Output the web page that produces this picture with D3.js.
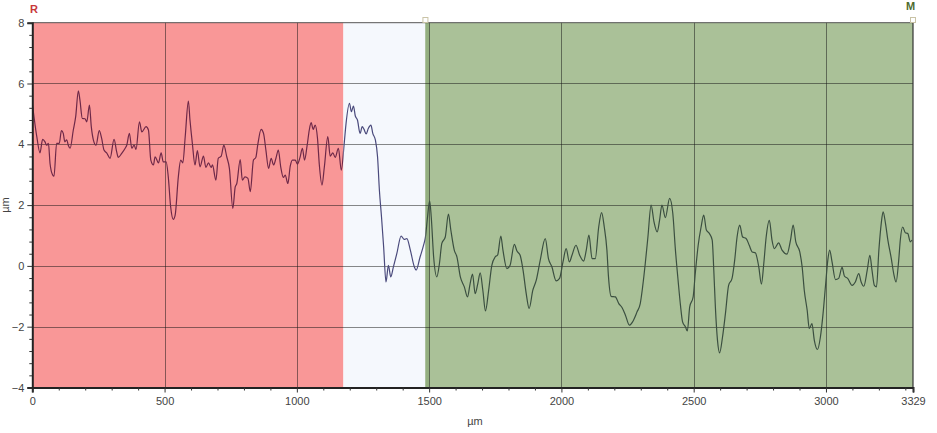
<!DOCTYPE html>
<html>
<head>
<meta charset="utf-8">
<script src="https://cdn.jsdelivr.net/npm/d3@7"></script>
<style>
  body { margin: 0; background: #fff; }
  svg { display: block; font-family: 'Liberation Sans', Arial, sans-serif; }
</style>
</head>
<body>
<svg width="937" height="433"></svg>
<script>
'use strict'

// profile, x in µm and height in µm
const positions = [
  0, 17, 29, 39, 48, 54, 61, 67, 77, 82, 92, 102, 110, 117, 123, 130, 136, 143, 155, 164,
  174, 180, 189, 199, 206, 216, 223, 231, 241, 253, 262, 271, 281, 294, 309, 319, 325, 338, 351, 357,
  367, 376, 385, 392, 405, 414, 430, 439, 448, 458, 464, 477, 487, 495, 506, 514, 523, 533, 540, 552,
  561, 569, 578, 590, 596, 605, 615, 624, 634, 647, 656, 666, 676, 681, 694, 703, 714, 724, 735, 745,
  758, 767, 773, 786, 794, 804, 815, 824, 836, 845, 852, 865, 874, 883, 893, 903, 912, 921, 930, 939,
  949, 956, 966, 975, 983, 994, 1002, 1012, 1021, 1029, 1039, 1047, 1054, 1062, 1069, 1078, 1085, 1095, 1104, 1117,
  1126, 1136, 1145, 1157, 1168, 1179, 1186, 1199, 1206, 1214, 1221, 1229, 1239, 1247, 1254, 1262, 1270, 1280, 1287, 1297,
  1305, 1312, 1320, 1328, 1337, 1346, 1355, 1365, 1378, 1394, 1406, 1416, 1429, 1444, 1451, 1466, 1479, 1486, 1494, 1502,
  1508, 1517, 1529, 1539, 1548, 1561, 1573, 1582, 1595, 1605, 1618, 1633, 1645, 1655, 1664, 1674, 1684, 1693, 1703, 1713,
  1725, 1737, 1750, 1759, 1771, 1779, 1794, 1806, 1822, 1832, 1844, 1855, 1867, 1878, 1892, 1905, 1920, 1939, 1951, 1964,
  1980, 1993, 2006, 2018, 2030, 2040, 2055, 2069, 2084, 2094, 2104, 2116, 2128, 2141, 2152, 2162, 2172, 2178, 2188, 2204,
  2217, 2229, 2242, 2257, 2269, 2286, 2298, 2307, 2317, 2327, 2339, 2350, 2362, 2371, 2380, 2393, 2409, 2421, 2431, 2441,
  2450, 2458, 2469, 2476, 2485, 2498, 2506, 2517, 2528, 2538, 2548, 2559, 2570, 2576, 2582, 2590, 2598, 2609, 2620, 2632,
  2645, 2655, 2664, 2674, 2685, 2698, 2710, 2721, 2733, 2746, 2756, 2765, 2774, 2786, 2796, 2805, 2821, 2834, 2853, 2866,
  2876, 2886, 2901, 2910, 2918, 2929, 2937, 2947, 2956, 2968, 2979, 2989, 2999, 3007, 3014, 3023, 3036, 3048, 3061, 3070,
  3082, 3099, 3111, 3124, 3133, 3143, 3156, 3166, 3174, 3183, 3191, 3200, 3209, 3216, 3225, 3234, 3247, 3256, 3265, 3275,
  3281, 3290, 3300, 3309, 3319, 3325
]
const heights = [
  5.35, 4.25, 3.72, 4.16, 4.08, 3.97, 4.03, 3.37, 2.99, 2.95, 4.03, 4.03, 4.45, 4.36, 4.08, 4.15, 3.97, 3.87, 4.47, 4.91,
  5.76, 5.46, 4.85, 4.84, 4.74, 5.29, 4.58, 4.14, 3.97, 4.45, 4.2, 3.81, 3.72, 3.54, 4.16, 3.75, 3.57, 3.7, 3.87, 3.97,
  4.36, 3.87, 3.97, 3.83, 4.74, 4.41, 4.58, 4.47, 3.48, 3.32, 3.59, 3.39, 3.72, 3.42, 3.42, 2.93, 1.94, 1.53, 1.67, 2.93,
  3.48, 3.39, 4.25, 5.42, 4.8, 4.03, 3.32, 3.79, 3.26, 3.61, 3.24, 3.39, 3.24, 3.32, 2.82, 3.54, 3.61, 3.97, 3.59, 3.21,
  1.89, 2.6, 2.71, 3.5, 2.82, 2.93, 2.88, 2.44, 3.48, 3.57, 3.97, 4.49, 4.36, 3.81, 3.21, 3.54, 3.32, 3.54, 3.81, 3.26,
  2.91, 2.99, 2.71, 3.28, 3.48, 3.48, 3.35, 3.57, 3.87, 3.48, 3.97, 4.47, 4.71, 4.49, 4.63, 4.2, 3.32, 2.66, 3.26, 4.25,
  3.61, 3.72, 3.57, 3.87, 3.15, 4.03, 4.69, 5.35, 5.07, 5.26, 4.93, 4.8, 4.36, 4.58, 4.49, 4.34, 4.52, 4.63, 4.36, 4.14,
  3.59, 2.49, 1.61, 0.63, -0.53, 0.02, -0.36, -0.03, 0.41, 0.98, 0.87, 0.9, 0.52, -0.03, -0.14, 0.3, 0.68, 0.95, 1.61, 2.14,
  1.61, 0.3, -0.36, 0.08, 0.74, 0.95, 1.7, 1.18, 0.52, 0.3, -0.36, -0.69, -1.02, -0.58, -0.27, -0.91, -0.58, -0.23, -0.8, -1.48,
  -0.8, 0.02, 0.3, 0.36, 0.98, 0.52, -0.09, 0.02, 0.71, 0.49, 0.35, -0.14, -0.91, -1.4, -0.8, -0.47, 0.19, 0.9, 0.24, -0.03,
  -0.49, -0.41, 0.13, 0.57, 0.13, 0.35, 0.68, 0.35, 0.16, 0.52, 1.01, 0.24, 0.24, 1.28, 1.75, 1.28, 0.52, -0.36, -1.0, -1.02,
  -1.24, -1.37, -1.62, -1.95, -1.84, -1.51, -1.24, -0.69, 0.08, 0.95, 2.0, 1.45, 1.12, 1.5, 2.0, 1.59, 2.22, 1.73, 0.52, -0.47,
  -1.29, -1.84, -2.01, -2.14, -1.35, -1.02, -0.25, 0.68, 1.28, 1.67, 1.18, 1.07, 0.85, -0.14, -1.35, -2.45, -2.86, -2.34, -1.57, -0.64,
  -0.41, 0.19, 0.95, 1.34, 0.95, 0.9, 0.68, 0.46, 0.43, -0.03, -0.6, 0.08, 0.95, 1.5, 0.85, 0.57, 0.76, 0.52, 0.39, 0.85,
  1.34, 0.79, 0.46, -0.03, -0.8, -1.46, -2.06, -1.9, -2.45, -2.75, -2.34, -1.57, -0.58, 0.19, 0.52, 0.13, -0.45, -0.41, -0.05, -0.34,
  -0.41, -0.64, -0.53, -0.25, -0.53, -0.67, -0.14, 0.35, -0.14, -0.64, -0.69, 0.52, 1.4, 1.78, 1.4, 0.85, 0.24, -0.25, -0.53, 0.19,
  0.85, 1.28, 1.09, 1.07, 0.79, 0.85
]

// evaluation zones: start, end (µm)
const zoneNames = ['R', 'gap', 'M']
const zoneStarts = [0, 1176, 1486]
const zoneEnds = [1176, 1486, 3329]
const zoneFills = ['#f99797', '#f5f8fd', '#aac198']
const zoneLines = ['#6e2848', '#4a4a7c', '#3b4f40']

const xTicks = [0, 500, 1000, 1500, 2000, 2500, 3000, 3329]
const yTicks = [-4, -2, 0, 2, 4, 6, 8]

const svg = d3.select('svg')

const x = d3.scaleLinear().domain([0, 3329]).range([32.3, 913])
const y = d3.scaleLinear().domain([-4, 8]).range([387.5, 22.7])

const data = positions.map((p, i) => ({ x: p, y: heights[i] }))

const plotTop = y(8), plotBottom = y(-4)

// zone fills
svg.selectAll('rect.zone')
  .data(zoneNames)
  .enter()
  .append('rect')
  .attr('class', 'zone')
  .attr('x', (d, i) => x(zoneStarts[i]))
  .attr('y', plotTop)
  .attr('width', (d, i) => x(zoneEnds[i]) - x(zoneStarts[i]))
  .attr('height', plotBottom - plotTop)
  .attr('fill', (d, i) => zoneFills[i])

// darker marker stripe at start of M zone
svg.append('rect')
  .attr('x', x(zoneStarts[2]))
  .attr('y', plotTop)
  .attr('width', 4)
  .attr('height', plotBottom - plotTop)
  .attr('fill', '#94af80')

// grid
const grid = svg.append('g').attr('stroke', 'rgba(20,20,20,0.5)').attr('stroke-width', 1)
grid.selectAll('line.h')
  .data(yTicks.filter(t => t > -4 && t < 8))
  .enter()
  .append('line')
  .attr('x1', x(0)).attr('x2', x(3329))
  .attr('y1', d => Math.round(y(d)) + 0.5).attr('y2', d => Math.round(y(d)) + 0.5)
grid.selectAll('line.v')
  .data(xTicks.filter(t => t > 0 && t < 3329))
  .enter()
  .append('line')
  .attr('y1', plotTop).attr('y2', plotBottom)
  .attr('x1', d => Math.round(x(d)) + 0.5).attr('x2', d => Math.round(x(d)) + 0.5)

// frame top/right
svg.append('line')
  .attr('x1', x(0)).attr('x2', x(3329))
  .attr('y1', plotTop).attr('y2', plotTop)
  .attr('stroke', '#555').attr('stroke-width', 1)
svg.append('line')
  .attr('x1', x(3329)).attr('x2', x(3329))
  .attr('y1', plotTop).attr('y2', plotBottom)
  .attr('stroke', '#333').attr('stroke-width', 1.2)

// profile line, coloured per zone via clip paths
const line = d3.line()
  .x(d => x(d.x))
  .y(d => y(d.y))
  .curve(d3.curveMonotoneX)

const defs = svg.append('defs')
zoneNames.forEach((z, i) => {
  defs.append('clipPath')
    .attr('id', 'clip-' + i)
    .append('rect')
    .attr('x', x(zoneStarts[i]))
    .attr('y', 0)
    .attr('width', x(zoneEnds[i]) - x(zoneStarts[i]))
    .attr('height', 433)

  svg.append('path')
    .datum(data)
    .attr('clip-path', 'url(#clip-' + i + ')')
    .attr('fill', 'none')
    .attr('stroke', zoneLines[i])
    .attr('stroke-width', 1.2)
    .attr('d', line)
})

// axes
const minorX = d3.range(100, 3329, 100).filter(v => v % 500 !== 0)
const minorY = d3.range(-4, 8.01, 0.4).filter(v => Math.abs(v / 2 - Math.round(v / 2)) > 0.01)

svg.append('g')
  .attr('transform', 'translate(0,' + plotBottom + ')')
  .call(d3.axisBottom(x).tickValues(xTicks).tickSize(5).tickPadding(5).tickFormat(d3.format('d')))
svg.append('g')
  .attr('transform', 'translate(0,' + plotBottom + ')')
  .call(d3.axisBottom(x).tickValues(minorX).tickSize(3).tickFormat(''))
  .call(g => g.select('.domain').remove())

svg.append('g')
  .attr('transform', 'translate(' + x(0) + ',0)')
  .call(d3.axisLeft(y).tickValues(yTicks).tickSize(5).tickPadding(3))
svg.append('g')
  .attr('transform', 'translate(' + x(0) + ',0)')
  .call(d3.axisLeft(y).tickValues(minorY).tickSize(3).tickFormat(''))
  .call(g => g.select('.domain').remove())

svg.selectAll('.domain').attr('stroke', '#222').attr('stroke-width', 2)
svg.selectAll('.tick line').attr('stroke', '#333')
svg.selectAll('.tick text')
  .attr('fill', '#444')
  .style('font-size', '11px')
  .style('font-family', "'Liberation Sans', Arial, sans-serif")

// axis titles
svg.append('text')
  .attr('x', 475)
  .attr('y', 425)
  .attr('text-anchor', 'middle')
  .attr('fill', '#444')
  .style('font-size', '11px')
  .text('µm')
svg.append('text')
  .attr('transform', 'translate(9,205) rotate(-90)')
  .attr('text-anchor', 'middle')
  .attr('fill', '#444')
  .style('font-size', '11px')
  .text('µm')

// zone labels and handles
svg.append('text')
  .attr('x', 30)
  .attr('y', 13)
  .attr('fill', '#c8383a')
  .style('font-size', '11px')
  .style('font-weight', 'bold')
  .text('R')
svg.append('text')
  .attr('x', 906)
  .attr('y', 10)
  .attr('fill', '#4e6b2e')
  .style('font-size', '11px')
  .style('font-weight', 'bold')
  .text('M')

svg.selectAll('rect.handle')
  .data([zoneStarts[2], 3329])
  .enter()
  .append('rect')
  .attr('class', 'handle')
  .attr('x', d => x(d) - 2.5)
  .attr('y', 17.5)
  .attr('width', 5)
  .attr('height', 5)
  .attr('fill', '#fff')
  .attr('stroke', '#c9c3a6')
  .attr('stroke-width', 1)
</script>
</body>
</html>
